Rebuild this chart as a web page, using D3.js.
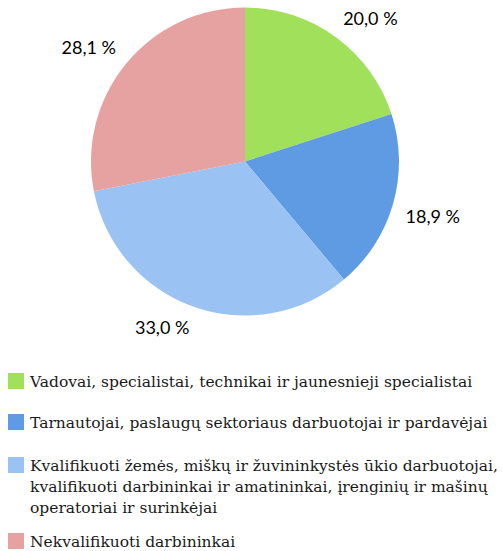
<!DOCTYPE html>
<html>
<head>
<meta charset="utf-8">
<script src="https://cdn.jsdelivr.net/npm/d3@7"></script>
<style>
  body { margin: 0; background: #fff; }
  svg { display: block; }
</style>
</head>
<body>
<div id="chart"></div>
<script>
// Data
var categories = [
    ["Vadovai, specialistai, technikai ir jaunesnieji specialistai"],
    ["Tarnautojai, paslaugų sektoriaus darbuotojai ir pardavėjai"],
    ["Kvalifikuoti žemės, miškų ir žuvininkystės ūkio darbuotojai,",
     "kvalifikuoti darbininkai ir amatininkai, įrenginių ir mašinų",
     "operatoriai ir surinkėjai"],
    ["Nekvalifikuoti darbininkai"]
];
var values = [20.0, 18.9, 33.0, 28.1];
var colors = ["#a0e05a", "#5e9be2", "#9ac2f2", "#e6a2a0"];

var width = 503, height = 551;
var cx = 245, cy = 161.5, radius = 154;

var svg = d3.select("#chart").append("svg")
    .attr("width", width)
    .attr("height", height);

var pie = d3.pie().sort(null).value(function(d) { return d; });
var arc = d3.arc().innerRadius(0).outerRadius(radius);
var arcs = pie(values);

var g = svg.append("g")
    .attr("transform", "translate(" + cx + "," + cy + ")");

// Slices
g.selectAll(".slice")
    .data(arcs)
    .enter().append("path")
    .attr("class", "slice")
    .attr("d", arc)
    .attr("fill", function(d, i) { return colors[i]; });

// Percentage labels, placed just outside the slice
var labelR = 167;
g.selectAll(".pct")
    .data(arcs)
    .enter().append("text")
    .attr("class", "pct")
    .each(function(d) {
        var a = (d.startAngle + d.endAngle) / 2;
        var s = Math.sin(a), c = Math.cos(a);
        d3.select(this)
            .attr("x", labelR * s)
            .attr("y", -labelR * c + (c > 0 ? -8 : 8))
            .attr("text-anchor", s >= 0 ? "start" : "end");
    })
    .attr("dominant-baseline", "central")
    .attr("font-family", "Lato, 'Noto Sans', sans-serif")
    .attr("font-size", 18)
    .attr("fill", "#000")
    .text(function(d) { return d3.format(".1f")(d.data).replace(".", ",") + " %"; });

// Legend
var legendTop = [373, 414, 457, 533];
var lineH = 21;
var legend = svg.selectAll(".legend")
    .data(categories)
    .enter().append("g")
    .attr("class", "legend")
    .attr("transform", function(d, i) { return "translate(8," + legendTop[i] + ")"; });

legend.append("rect")
    .attr("width", 16)
    .attr("height", 16)
    .attr("fill", function(d, i) { return colors[i]; });

legend.append("text")
    .attr("x", 22)
    .attr("font-family", "'DejaVu Serif', serif")
    .attr("font-size", 15.5)
    .attr("fill", "#1a1a1a")
    .selectAll("tspan")
    .data(function(d) { return d; })
    .enter().append("tspan")
    .attr("x", 22)
    .attr("y", function(d, j) { return 14 + j * lineH; })
    .text(function(d) { return d; });
</script>
</body>
</html>
